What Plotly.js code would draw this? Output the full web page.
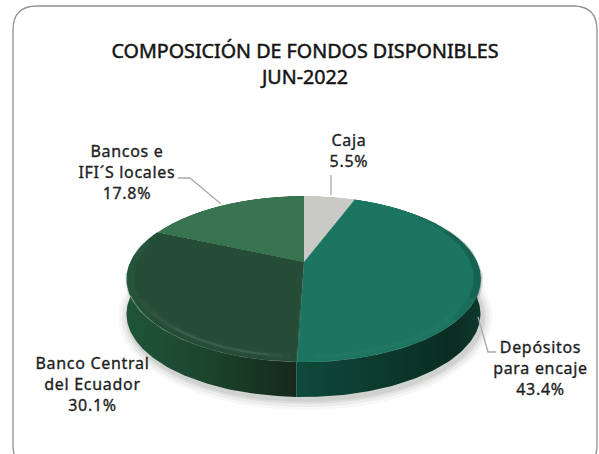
<!DOCTYPE html>
<html>
<head>
<meta charset="utf-8">
<script src="https://cdn.plot.ly/plotly-3.0.1.min.js"></script>
<style>
html,body{margin:0;padding:0;background:#fff;overflow:hidden}
#stage{position:relative;width:599px;height:454px;overflow:hidden}
#base{position:absolute;left:0;top:0;width:599px;height:454px}
#face{position:absolute;width:360px;height:360px}
#base .gtitle{stroke:#161616;stroke-width:.5px}
#base .annotation-text{stroke:#1f1f1f;stroke-width:.35px;letter-spacing:.7px}
</style>
</head>
<body>
<div id="stage"><div id="base"></div><div id="face"></div></div>
<script>
// ---- chart data ----
var categories = ["Caja", "Depósitos para encaje", "Banco Central del Ecuador", "Bancos e IFI´S locales"];
var values = [5.5, 43.4, 30.1, 17.8];
var labelLines = [
  ["Caja", "5.5%"],
  ["Depósitos", "para encaje", "43.4%"],
  ["Banco Central", "del Ecuador", "30.1%"],
  ["Bancos e", "IFI´S locales", "17.8%"]
];
var titleLines = ["COMPOSICIÓN DE FONDOS DISPONIBLES", "JUN-2022"];
var faceColors = ["#c9cac5", "#1b7560", "#244c36", "#37744f"];

// ---- look of the tilted disc ----
var FONT = "'Noto Sans', sans-serif";
var cx = 303.5, cy = 279, rx = 177, ry = 83, apexLift = 17, depth = 35;
var k = apexLift * 2 / (ry * 2);
var c = rx * Math.sqrt(1 - k * k);
var R = 180;
var total = values.reduce(function (a, b) { return a + b; }, 0);

function project(deg, r) {
  var t = deg * Math.PI / 180, u = r * Math.sin(t), v = r * Math.cos(t), w = 1 + k * v;
  return [cx + c * u / w, cy - (ry * v + apexLift) / w];
}
function sliceAngles(i) {
  var a = 0;
  for (var j = 0; j < i; j++) a += values[j];
  return [a / total * 360, (a + values[i]) / total * 360];
}

// side wall of a slice, built from the slice's own share of the total
function wallTrace(i, scale) {
  var s = sliceAngles(i), xs = [], ys = [], back = [], deg, p;
  for (deg = s[0]; deg <= s[1]; deg += 1) {
    p = project(deg, 1); xs.push(p[0]); ys.push(p[1]); back.push(p);
  }
  p = project(s[1], 1); xs.push(p[0]); ys.push(p[1]); back.push(p);
  for (var n = back.length - 1; n >= 0; n--) { xs.push(back[n][0]); ys.push(back[n][1] + depth); }
  xs.push(xs[0]); ys.push(ys[0]);
  return {type: "scatter", mode: "lines", x: xs, y: ys, fill: "toself", line: {width: 0},
    fillgradient: {type: "horizontal", colorscale: scale}, hoverinfo: "skip", showlegend: false,
    name: categories[i]};
}

var walls = [
  wallTrace(2, [[0, "#1f5439"], [0.45, "#1c462d"], [1, "#15291b"]]),
  wallTrace(1, [[0, "#0e4a3b"], [0.45, "#0c3a2d"], [0.85, "#0a2c22"], [1, "#0e382c"]])
];

// soft shadow under the disc
var shapes = [];
[[10, .05], [7, .07], [4, .09], [2, .10]].forEach(function (s) {
  shapes.push({type: "circle", xref: "x", yref: "y", layer: "below",
    x0: cx - rx - s[0] + 2, x1: cx + rx + s[0] + 2,
    y0: cy - ry + depth + 3 - s[0], y1: cy + ry + depth + 3 + s[0],
    fillcolor: "rgba(90,95,90," + s[1] + ")", line: {width: 0}});
});
// chart frame
shapes.push({type: "path", xref: "x", yref: "y", layer: "below",
  path: "M13,30 Q13,6 37,6 L573,6 Q597,6 597,30 L597,445 Q597,469 573,469 L37,469 Q13,469 13,445 Z",
  line: {color: "#8f8f8f", width: 1.3}, fillcolor: "rgba(0,0,0,0)"});
// leader lines
["M331,175 L331,195", "M178,178 L190,178 L221,204", "M478,317 L488,352 L496,352"].forEach(function (l) {
  shapes.push({type: "path", xref: "x", yref: "y", path: l, line: {color: "#a9a9a9", width: 1.3}});
});

var labelCenters = [349, 540, 92, 127];
var labelMiddles = [150, 368, 384, 172];
var annotations = labelLines.map(function (lines, i) {
  return {text: lines.join("<br>"), x: labelCenters[i], y: labelMiddles[i], xref: "x", yref: "y",
    showarrow: false, xanchor: "center", yanchor: "middle", align: "center",
    font: {family: FONT, size: 16, color: "#1f1f1f"}};
});

Plotly.newPlot("base", walls, {
  width: 599, height: 454, margin: {l: 0, r: 0, t: 0, b: 0},
  paper_bgcolor: "#fff", plot_bgcolor: "rgba(0,0,0,0)", showlegend: false,
  title: {text: titleLines.join("<br>"), x: 305 / 599, xanchor: "center", y: 0.872, yanchor: "middle",
    font: {family: FONT, size: 19.7, color: "#141414"}},
  xaxis: {range: [0, 599], visible: false, fixedrange: true},
  yaxis: {range: [454, 0], visible: false, fixedrange: true},
  shapes: shapes, annotations: annotations
}, {displayModeBar: false, staticPlot: true});

// top face: a true pie, tilted with a perspective transform
function arcPath(a0, a1, r) {
  var d = "";
  for (var a = a0; a <= a1; a += 2) {
    var t = a * Math.PI / 180;
    d += (d ? "L" : "M") + (0.5 + 0.5 * r * Math.sin(t)).toFixed(4) + "," + (0.5 + 0.5 * r * Math.cos(t)).toFixed(4);
  }
  return d;
}
var bevel = [
  {a: [232, 292], r: 0.985, w: 9, col: "rgba(45,130,85,0.08)"},
  {a: [245, 285], r: 0.985, w: 9, col: "rgba(45,130,85,0.10)"},
  {a: [50, 130], r: 0.985, w: 9, col: "rgba(0,20,15,0.07)"},
  {a: [65, 115], r: 0.985, w: 9, col: "rgba(0,20,15,0.10)"},
  {a: [184, 245], r: 0.955, w: 7, col: "rgba(255,255,255,0.025)"},
  {a: [186, 235], r: 0.955, w: 3, col: "rgba(255,255,255,0.04)"},
  {a: [190, 222], r: 0.955, w: 3, col: "rgba(255,255,255,0.05)"},
  {a: [125, 178], r: 0.96, w: 6, col: "rgba(255,255,255,0.025)"}
].map(function (b) {
  return {type: "path", xref: "paper", yref: "paper", path: arcPath(b.a[0], b.a[1], b.r),
    line: {color: b.col, width: b.w}};
});

Plotly.newPlot("face", [{
  type: "pie", labels: categories, values: values, sort: false, direction: "clockwise", rotation: 0,
  marker: {colors: faceColors, line: {width: 0}}, textinfo: "none", hoverinfo: "skip",
  domain: {x: [0, 1], y: [0, 1]}
}], {
  width: 360, height: 360, margin: {l: 0, r: 0, t: 0, b: 0},
  paper_bgcolor: "rgba(0,0,0,0)", showlegend: false, shapes: bevel
}, {displayModeBar: false, staticPlot: true});

var face = document.getElementById("face");
face.style.left = (cx - R) + "px";
face.style.top = (cy - R) + "px";
face.style.transformOrigin = "50% 50%";
face.style.transform = "matrix3d(" + [c / R, 0, 0, 0, 0, ry / R, 0, -k / R, 0, 0, 1, 0, 0, -apexLift, 0, 1].join(",") + ")";
</script>
</body>
</html>
